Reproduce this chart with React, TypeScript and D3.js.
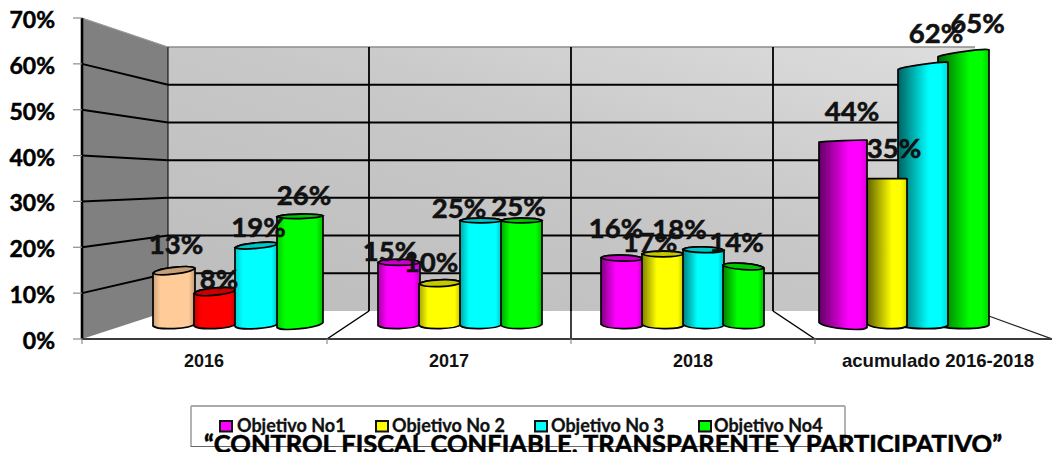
import React from "react";
import * as d3 from "d3";

// ---- data ----
const categories = ["2016", "2017", "2018", "acumulado 2016-2018"];
const seriesNames = ["Objetivo No1", "Objetivo No 2", "Objetivo No 3", "Objetivo No4"];
const objetivo1 = [13, 15, 16, 44];
const objetivo2 = [8, 10, 17, 35];
const objetivo3 = [19, 25, 18, 62];
const objetivo4 = [26, 25, 14, 65];
const yTicks = [0, 10, 20, 30, 40, 50, 60, 70];
const titleText = "“CONTROL FISCAL CONFIABLE, TRANSPARENTE Y PARTICIPATIVO”";
const allSeries = [objetivo1, objetivo2, objetivo3, objetivo4];

// ---- styles ----
const seriesColors = ["#ff00ff", "#ffff00", "#00ffff", "#00ff00"];
const pointOverrides: Record<string, string> = { "0-0": "#ffcc99", "0-1": "#ff0000" };
const LABEL_FONT = "Lato, sans-serif";
const AXIS_FONT = "'Liberation Sans', Arial, sans-serif";

// ---- layout ----
const W = 1052, H = 452;
const frontX = 82, backX = 168, backRight = 975, frontRight = 1052;
const yFront = d3.scaleLinear().domain([0, 70]).range([339, 18]);
const yBack = d3.scaleLinear().domain([0, 70]).range([311, 47]);
const yBar = d3.scaleLinear().domain([0, 70]).range([325, 32.4]);
const barLeft = d3.scaleOrdinal<string, number[]>().domain(categories).range([
  [153, 194, 235, 277], [378, 419, 460, 501], [601, 642, 683, 723], [819, 867, 898, 938],
]);
const barRight = d3.scaleOrdinal<string, number[]>().domain(categories).range([
  [195, 236, 278, 323], [420, 461, 502, 542], [643, 684, 724, 764], [867, 907, 948, 989],
]);
const catCenter = d3.scaleOrdinal<string, number>().domain(categories).range([204, 449, 693, 938]);
const backDividers = [369, 571, 773];
const frontTicks = [82, 327, 571, 815];
const topTilt = [[5, 4, 4, 1], [0, 1.5, 0, 0], [-1, 0, -1, -3], [2, 0, 7, 7]];
const bottomTilt = [[2, 2, 3, 5], [1, 1, 1, 1], [-1, -1, -1, -1], [-5, -2, -1, 0]];
const labelDx = [[2, 4, 2, 4], [-9, -9, -22, -3], [-6, -13, -24, -7], [9, 7, 13, 14]];
const labelDy = [[-17, -3, -9, -12], [-2, -12, -3, -5], [-21, -2, -11, -15], [-21, -21, -23, -21]];
const shadeStrength = [0.2, 0.35, 0.5, 0.62];
const shadeStop = [0.18, 0.22, 0.35, 0.62];
const topRy = d3.scaleLinear().domain([8, 30, 35, 65]).range([4.5, 2.5, 0, 2]).clamp(true);
const legendSwatch = [220, 376, 535, 699];
const legendText = [237, 392, 551, 714];

function barColor(c: number, s: number) {
  return pointOverrides[`${c}-${s}`] ?? seriesColors[s];
}

function Bar({ c, s }: { c: number; s: number }) {
  const v = allSeries[s][c];
  const x0 = barLeft(categories[c])[s];
  const x1 = barRight(categories[c])[s];
  const w = x1 - x0;
  const yT = yBar(v);
  const tt = topTilt[c][s];
  const bt = bottomTilt[c][s];
  const yB = yBar(0);
  const tl = yT + tt / 2, tr = yT - tt / 2;
  const bl = yB + bt / 2, br = yB - bt / 2;
  const rx = w / 2 + 0.5;
  const ry = topRy(v);
  const rot = (Math.atan2(-tt, w) * 180) / Math.PI;
  const rotB = (Math.atan2(-bt, w) * 180) / Math.PI;
  const color = barColor(c, s);
  const id = `g${c}${s}`;
  const side = `M${x0},${tl} L${x0},${bl} A${rx},4.5 ${rotB} 0 0 ${x1},${br} L${x1},${tr} A${rx},${ry} ${rot} 0 0 ${x0},${tl} Z`;
  const topFace = `M${x0},${tl} A${rx},${ry} ${rot} 0 0 ${x1},${tr} A${rx},${ry} ${rot} 0 0 ${x0},${tl} Z`;
  const dark = d3.interpolateRgb(color, "#000")(shadeStrength[c]);
  const edge = d3.interpolateRgb(color, "#000")(c === 3 ? 0.15 : 0.25);
  return (
    <g>
      <defs>
        <linearGradient id={id} x1="0" x2="1" y1="0" y2="0">
          <stop offset="0" stopColor={dark} />
          <stop offset={shadeStop[c]} stopColor={color} />
          <stop offset="0.85" stopColor={color} />
          <stop offset="1" stopColor={edge} />
        </linearGradient>
      </defs>
      <path d={side} fill={`url(#${id})`} stroke="#000" strokeWidth={1.7} strokeLinejoin="round" />
      {v < 30 && (
        <path d={topFace} fill={d3.interpolateRgb(color, "#000")(0.22)} stroke="#000" strokeWidth={1.7} />
      )}
    </g>
  );
}

export default function App() {
  const order = categories.flatMap((_, c) =>
    (c === 3 ? [3, 2, 1, 0] : [0, 1, 2, 3]).map((s) => ({ c, s }))
  );
  return (
    <svg
      width={W}
      height={H}
      viewBox={`0 0 ${W} ${H}`}
      style={{ position: "fixed", left: 0, top: 0, display: "block", background: "#fff" }}
    >
      <defs>
        <linearGradient id="wall" x1="0" y1="1" x2="1" y2="0">
          <stop offset="0" stopColor="#bcbcbc" />
          <stop offset="0.55" stopColor="#c8c8c8" />
          <stop offset="1" stopColor="#dedede" />
        </linearGradient>
      </defs>

      {/* floor */}
      <polygon
        points={`${frontX},${yFront(0)} ${backX},${yBack(0)} ${backRight},${yBack(0)} ${frontRight},${yFront(0)}`}
        fill="#fff"
      />
      {/* back wall */}
      <rect x={backX} y={yBack(70)} width={backRight - backX} height={yBack(0) - yBack(70)} fill="url(#wall)" />
      <line x1={backX} x2={backRight} y1={yBack(70)} y2={yBack(70)} stroke="#8c8c8c" strokeWidth={1.5} />
      {/* left wall */}
      <polygon
        points={`${frontX},${yFront(70)} ${backX},${yBack(70)} ${backX},${yBack(0)} ${frontX},${yFront(0)}`}
        fill="#808080"
      />
      <line x1={frontX} x2={backX} y1={yFront(70)} y2={yBack(70)} stroke="#999" strokeWidth={1.2} />

      {/* gridlines */}
      {yTicks.slice(1, -1).map((t) => (
        <g key={t} stroke="#000" strokeWidth={2} fill="none">
          <polyline points={`${frontX},${yFront(t)} ${backX},${yBack(t)} ${backRight},${yBack(t)}`} />
        </g>
      ))}
      <line x1={backX} x2={backX} y1={yBack(70)} y2={yBack(0)} stroke="#000" strokeWidth={1} />
      {backDividers.map((x) => (
        <line key={x} x1={x} x2={x} y1={yBack(70)} y2={yBack(0)} stroke="#000" strokeWidth={1.8} />
      ))}
      {/* floor dividers */}
      {backDividers.map((x, i) => (
        <line key={x} x1={x} x2={frontTicks[i + 1]} y1={yBack(0)} y2={yFront(0)} stroke="#000" strokeWidth={1.5} />
      ))}
      <line x1={backRight} x2={frontRight} y1={yBack(0)} y2={yFront(0)} stroke="#222" strokeWidth={1.3} />

      {/* axes */}
      <line x1={frontX} x2={frontX} y1={yFront(70)} y2={yFront(0)} stroke="#000" strokeWidth={2.6} />
      <line x1={frontX - 1} x2={frontRight} y1={yFront(0)} y2={yFront(0)} stroke="#3c3c3c" strokeWidth={2} />
      {yTicks.map((t) => (
        <g key={t}>
          <line x1={frontX - 9} x2={frontX} y1={yFront(t)} y2={yFront(t)} stroke="#8c8c8c" strokeWidth={1.2} />
          <text
            x={55}
            y={yFront(t) + 10}
            textAnchor="end"
            fontFamily={LABEL_FONT}
            fontWeight={700}
            fontSize={23}
            stroke="#000"
            strokeWidth={0.5}
            fill="#000"
          >
            {`${t}%`}
          </text>
        </g>
      ))}
      {frontTicks.map((x) => (
        <line key={x} x1={x} x2={x} y1={yFront(0)} y2={yFront(0) + 5} stroke="#8c8c8c" strokeWidth={1.2} />
      ))}
      {categories.map((c, i) => (
        <text
          key={c}
          x={catCenter(c)}
          y={367}
          textAnchor="middle"
          fontFamily={AXIS_FONT}
          fontWeight={700}
          fontSize={i < 3 ? 18 : 18.6}
          fill="#111"
        >
          {c}
        </text>
      ))}

      {/* bars */}
      {order.map(({ c, s }) => (
        <Bar key={`${c}-${s}`} c={c} s={s} />
      ))}

      {/* data labels */}
      {order.map(({ c, s }) => {
        const v = allSeries[s][c];
        const cx = (barLeft(categories[c])[s] + barRight(categories[c])[s]) / 2;
        return (
          <text
            key={`l${c}-${s}`}
            x={cx + labelDx[c][s]}
            y={yBar(v) + labelDy[c][s] + 0.5}
            textAnchor="middle"
            fontFamily={LABEL_FONT}
            fontWeight={700}
            fontSize={27.5}
            stroke="#111"
            strokeWidth={0.6}
            fill="#111"
          >
            {`${v}%`}
          </text>
        );
      })}

      {/* legend */}
      <rect x={191} y={406.5} width={654} height={40} fill="none" stroke="#666" strokeWidth={1} />
      <line x1={191} x2={845} y1={406} y2={406} stroke="#aaa" strokeWidth={2} />
      {seriesNames.map((n, i) => (
        <g key={n}>
          <rect x={legendSwatch[i]} y={421} width={12} height={10.5} fill={seriesColors[i]} stroke="#111" strokeWidth={2} />
          <text x={legendText[i]} y={432} fontFamily={LABEL_FONT} fontWeight={700} fontSize={18} stroke="#111" strokeWidth={0.3} fill="#111">
            {n}
          </text>
        </g>
      ))}
      <text
        x={603}
        y={452.5}
        textAnchor="middle"
        fontFamily={LABEL_FONT}
        fontWeight={700}
        fontSize={25.5}
        stroke="#000"
        strokeWidth={0.6}
        fill="#000"
      >
        {titleText}
      </text>
    </svg>
  );
}
